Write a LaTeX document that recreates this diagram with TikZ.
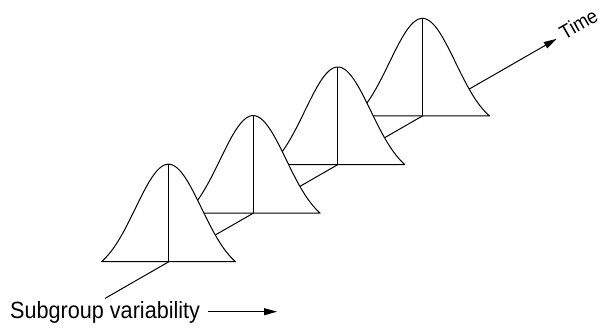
\documentclass[tikz,border=0pt]{standalone}
\usepackage{fontspec}
\newfontfamily\labelfont[FakeStretch=0.92]{Liberation Sans}
\usetikzlibrary{arrows.meta}
\newcommand\bellcurve[1]{%
  \begin{scope}[shift={(#1)}]
    \filldraw[bell] (-67,0) -- plot[domain=-67:67,samples=91] (\x,{-97.5*(exp(-((\x)^2)/2178)-0.1273)/0.8727}) -- cycle;
    \draw[bell] (0,0) -- (0,-97.5);
  \end{scope}}
\begin{document}
\begin{tikzpicture}[x=1pt,y=-1pt,
  bell/.style={line width=1pt,fill=white,line join=round},
  axisline/.style={line width=1pt},
  arrowtip/.style={-{Triangle[length=13pt,width=7pt]}},
  lbl/.style={font=\labelfont\fontsize{23.5}{27}\selectfont,inner sep=0pt},
  smalllbl/.style={font=\labelfont\fontsize{20}{24}\selectfont,inner sep=0pt}]
\useasboundingbox (0,0) rectangle (601,329);
\coordinate (c1) at (168.5,261.7);
\coordinate (c2) at (253.15,213.1);
\coordinate (c3) at (337.8,164.5);
\coordinate (c4) at (422.45,115.9);
\coordinate (a0) at (105,298.4);
\coordinate (aend) at (556.7,38.8);
\draw[axisline,arrowtip] (a0) -- (aend);
\bellcurve{c4}
\bellcurve{c3}
\bellcurve{c2}
\bellcurve{c1}
\node[smalllbl,anchor=center,rotate=29.9] (time) at (578.5,24) {Time};
\node[lbl,anchor=base west] (sub) at (10,318.3) {Subgroup variability};
\coordinate (subend) at (277,311.7);
\draw[axisline,arrowtip] ([xshift=8pt]sub.east |- subend) -- (subend);
\end{tikzpicture}
\end{document}
